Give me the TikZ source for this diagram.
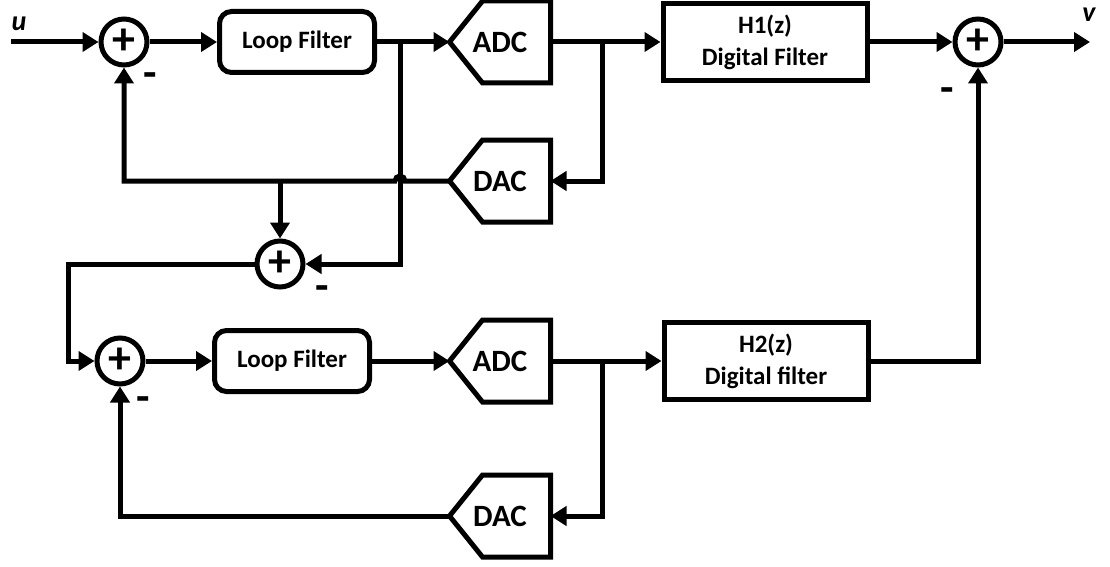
\documentclass[tikz,border=0pt]{standalone}
\usepackage{fontspec}
\setmainfont{Carlito}
\usepackage{tikz}
\usetikzlibrary{arrows.meta, positioning, calc}
\tikzset{
  sumnode/.style={
    draw, circle, line width=5pt, minimum size=46pt, inner sep=0pt,
    font=\fontsize{46}{46}\selectfont\bfseries
  },
  loopbox/.style={
    draw, rounded corners=12pt, line width=5pt,
    minimum width=155pt, minimum height=61pt,
    font=\fontsize{25}{30}\selectfont\bfseries
  },
  convbox/.style={
    rectangle, line width=5pt, minimum width=96pt, minimum height=77pt,
    inner sep=0pt, font=\fontsize{31}{31}\selectfont\bfseries,
    append after command={\pgfextra{
      \draw[line width=5pt, line join=miter]
        (\tikzlastnode.east) -- (\tikzlastnode.north east)
        -- ([xshift=33pt]\tikzlastnode.north west) -- (\tikzlastnode.west)
        -- ([xshift=33pt]\tikzlastnode.south west)
        -- (\tikzlastnode.south east) -- cycle;
    }}
  },
  digbox/.style={
    draw, rectangle, line width=5pt, align=center,
    minimum width=204pt, minimum height=77pt,
    font=\fontsize{25}{32}\selectfont\bfseries
  },
  sigarrow/.style={
    -{Triangle[length=16pt,width=19pt]}, line width=5pt
  },
  minuslabel/.style={font=\fontsize{44}{44}\selectfont\bfseries},
  portlabel/.style={font=\fontsize{28}{28}\selectfont\bfseries\itshape},
}

\begin{document}
\begin{tikzpicture}[x=1pt, y=-1pt]
  \useasboundingbox (0,0) rectangle (1110,567);

  % First stage
  \node[sumnode] (sumone) at (124,42) {+};
  \node[loopbox] (lfone) at (297,42) {Loop Filter};
  \node[convbox] (adcone) at (500,42) {ADC};
  \node[convbox] (dacone) at (500,181) {DAC};
  \node[digbox] (hone) at (765,42) {H1(z)\\Digital Filter};

  % Output combiner
  \node[sumnode] (sumout) at (978,42) {+};

  % Error between the stages
  \node[sumnode] (summid) at (280,264) {+};

  % Second stage
  \node[sumnode] (sumtwo) at (120,361) {+};
  \node[loopbox] (lftwo) at (292,361) {Loop Filter};
  \node[convbox] (adctwo) at (500,361) {ADC};
  \node[convbox] (dactwo) at (500,516) {DAC};
  \node[digbox] (htwo) at (766,361) {H2(z)\\Digital filter};

  % Signs and ports
  \node[minuslabel] (mone) at (150,80) {-};
  \node[minuslabel] (mmid) at (322,293) {-};
  \node[minuslabel] (mtwo) at (143,404) {-};
  \node[minuslabel] (mout) at (947,95) {-};
  \node[portlabel] (ulab) at (19,24) {u};
  \node[portlabel] (vlab) at (1089,15) {v};

  % Helper points
  \coordinate (uin) at (11,42);
  \coordinate (vout) at (1090,42);
  \coordinate (tapone) at (602,42);
  \coordinate (taptwo) at (602,361);
  \coordinate (lftap) at (400,42);
  \coordinate (hop) at (400,181);
  \coordinate (fbtap) at (280,181);
  \coordinate (bend) at (68,264);

  % Forward path, first stage
  \draw[sigarrow] (uin) -- (sumone.west);
  \draw[sigarrow] (sumone.east) -- (lfone.west);
  \draw[sigarrow] (lfone.east) -- (adcone.west);
  \draw[sigarrow] (adcone.east) -- (hone.west);
  \draw[sigarrow] (hone.east) -- (sumout.west);
  \draw[sigarrow] (sumout.east) -- (vout);

  % Feedback, first stage (hops over the loop filter tap)
  \draw[sigarrow] (tapone) |- (dacone.east);
  \draw[sigarrow] (dacone.west) -- ([xshift=5pt]hop)
    arc[start angle=0, end angle=180, radius=5pt]
    -- (sumone.south |- hop) -- (sumone.south);
  \draw[sigarrow] (fbtap) -- (summid.north);
  \draw[sigarrow] (lftap) |- (summid.east);

  % Into the second stage
  \draw[sigarrow] (summid.west) -- (bend) |- (sumtwo.west);
  \draw[sigarrow] (sumtwo.east) -- (lftwo.west);
  \draw[sigarrow] (lftwo.east) -- (adctwo.west);
  \draw[sigarrow] (adctwo.east) -- (htwo.west);
  \draw[sigarrow] (htwo.east) -| (sumout.south);

  % Feedback, second stage
  \draw[sigarrow] (taptwo) |- (dactwo.east);
  \draw[sigarrow] (dactwo.west) -| (sumtwo.south);
\end{tikzpicture}
\end{document}
